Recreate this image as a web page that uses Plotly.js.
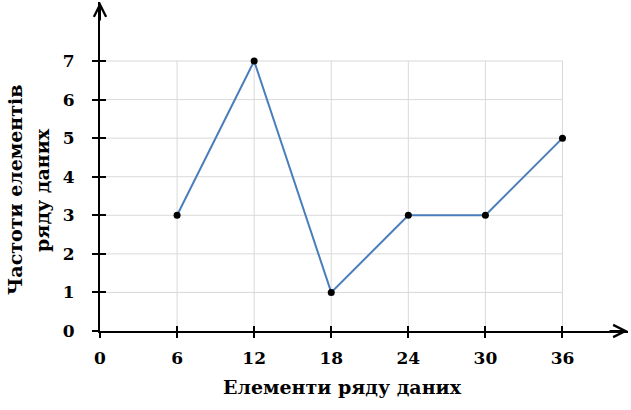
<!DOCTYPE html>
<html><head><meta charset="utf-8">
<script src="https://cdn.plot.ly/plotly-3.0.1.min.js"></script>
<style>html,body{margin:0;padding:0;background:#fff}</style>
</head><body>
<div id="chart" style="width:631px;height:410px"></div>
<script>
var xValues = [6, 12, 18, 24, 30, 36];
var yValues = [3, 7, 1, 3, 3, 5];
var xTicks = [0, 6, 12, 18, 24, 30, 36];
var yTicks = [0, 1, 2, 3, 4, 5, 6, 7];
var xTitle = 'Елементи ряду даних';
var yTitleLines = ['Частоти елементів', 'ряду даних'];

var XMAX = 41.1, YMAX = 8.53;
var FONT = 'DejaVu Serif';

var shapes = [];
var gx = xTicks[xTicks.length - 1], gy = yTicks[yTicks.length - 1];
xTicks.slice(1).forEach(function (v) {
  shapes.push({type: 'line', xref: 'x', yref: 'y', x0: v, x1: v, y0: 0, y1: gy, layer: 'below',
    line: {color: '#d9d9d9', width: 1}});
});
yTicks.slice(1).forEach(function (v) {
  shapes.push({type: 'line', xref: 'x', yref: 'y', x0: 0, x1: gx, y0: v, y1: v, layer: 'below',
    line: {color: '#d9d9d9', width: 1}});
});

var trace = {
  x: xValues, y: yValues, type: 'scatter', mode: 'lines+markers',
  line: {color: '#4a7ebb', width: 2},
  marker: {color: '#000', size: 7},
  cliponaxis: false, hoverinfo: 'skip'
};

var tickFont = {family: FONT, size: 17, color: '#000', weight: 'bold'};
var titleFont = {family: FONT, size: 19, color: '#000', weight: 'bold'};
var layout = {
  width: 631, height: 410,
  margin: {l: 100, r: 3, t: 2, b: 79},
  paper_bgcolor: '#fff', plot_bgcolor: '#fff',
  showlegend: false,
  xaxis: {range: [0, XMAX], showgrid: false, zeroline: false, showline: true, linecolor: '#000', linewidth: 2,
    tickmode: 'array', tickvals: xTicks, ticktext: xTicks.map(String),
    ticks: 'outside', ticklen: 5, tickwidth: 2, tickcolor: '#000', tickfont: tickFont, ticklabelstandoff: 6},
  yaxis: {range: [0, YMAX], showgrid: false, zeroline: false, showline: true, linecolor: '#000', linewidth: 2,
    tickmode: 'array', tickvals: yTicks, ticktext: yTicks.map(String),
    ticks: 'outside', ticklen: 6, tickwidth: 2, tickcolor: '#000', tickfont: tickFont, ticklabelstandoff: 14},
  xaxis2: {overlaying: 'x', range: [0, XMAX], showgrid: false, zeroline: false, showticklabels: false,
    tickmode: 'array', tickvals: xTicks.slice(1), ticks: 'inside', ticklen: 5, tickwidth: 2, tickcolor: '#000'},
  yaxis2: {overlaying: 'y', range: [0, YMAX], showgrid: false, zeroline: false, showticklabels: false,
    tickmode: 'array', tickvals: yTicks.slice(1), ticks: 'inside', ticklen: 6, tickwidth: 2, tickcolor: '#000'},
  shapes: shapes,
  annotations: [
    {xref: 'x', yref: 'y', x: XMAX, y: 0, ax: -20, ay: 0, text: '', showarrow: true,
      arrowhead: 5, arrowsize: 1.2, arrowwidth: 2, arrowcolor: '#000', standoff: 0},
    {xref: 'x', yref: 'y', x: 0, y: YMAX, ax: 0, ay: 20, text: '', showarrow: true,
      arrowhead: 5, arrowsize: 1.2, arrowwidth: 2, arrowcolor: '#000', standoff: 0},
    {xref: 'paper', yref: 'paper', x: 0.46, y: 0, yshift: -56, xanchor: 'center', yanchor: 'middle',
      text: xTitle, showarrow: false, font: titleFont},
    {xref: 'paper', yref: 'paper', x: -0.161, y: 0.4286, xanchor: 'center', yanchor: 'middle', textangle: -90,
      text: yTitleLines[0], showarrow: false, font: titleFont},
    {xref: 'paper', yref: 'paper', x: -0.110, y: 0.4286, xanchor: 'center', yanchor: 'middle', textangle: -90,
      text: yTitleLines[1], showarrow: false, font: titleFont}
  ]
};

var trace2 = {x: [0], y: [0], xaxis: 'x2', yaxis: 'y2', mode: 'markers', marker: {opacity: 0}, hoverinfo: 'skip'};
Plotly.newPlot('chart', [trace2, trace], layout, {staticPlot: true, displayModeBar: false});
</script>
</body></html>
